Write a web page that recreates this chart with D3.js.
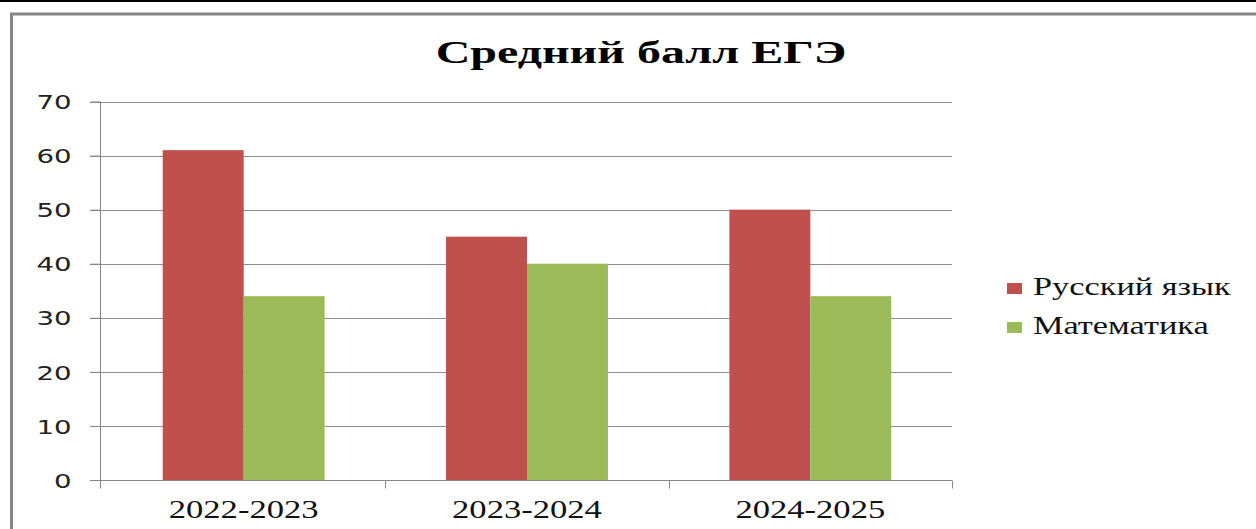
<!DOCTYPE html>
<html>
<head>
<meta charset="utf-8">
<script src="https://cdn.jsdelivr.net/npm/d3@7"></script>
<style>
  html, body { margin: 0; padding: 0; background: #fff; }
  svg { display: block; }
</style>
</head>
<body>
<div id="chart"></div>
<script>
const title = "Средний балл ЕГЭ";
const categories = ["2022-2023", "2023-2024", "2024-2025"];
const seriesNames = ["Русский язык", "Математика"];
const russian = [61, 45, 50];
const math = [34, 40, 34];
const yTicks = [0, 10, 20, 30, 40, 50, 60, 70];
const colors = ["#C0504D", "#9BBB59"];

const width = 1256, height = 529;

const svg = d3.select("#chart").append("svg")
  .attr("width", width)
  .attr("height", height);

// page edge and chart frame
svg.append("line")
  .attr("x1", 0).attr("x2", width).attr("y1", 1).attr("y2", 1)
  .attr("stroke", "#000").attr("stroke-width", 2);
svg.append("rect")
  .attr("x", 11.5).attr("y", 14)
  .attr("width", 1400).attr("height", 700)
  .attr("fill", "none").attr("stroke", "#868686").attr("stroke-width", 3);

const x = d3.scaleBand().domain(categories).range([102, 952]);
const xs = d3.scaleBand().domain(seriesNames).range([0, x.bandwidth()]).paddingOuter(0.75);
const y = d3.scaleLinear().domain([0, 70]).range([480, 101.5]);

// the source picture is stretched sideways, so text is widened too
function stretch(sx) {
  return (sel) => sel.each(function () {
    const w = this.getComputedTextLength();
    d3.select(this).attr("textLength", w * sx).attr("lengthAdjust", "spacingAndGlyphs");
  });
}

// gridlines
svg.append("g")
  .selectAll("line")
  .data(yTicks.filter((d) => d > 0))
  .join("line")
  .attr("x1", 90).attr("x2", 952)
  .attr("y1", (d) => Math.round(y(d)) + 0.5)
  .attr("y2", (d) => Math.round(y(d)) + 0.5)
  .attr("stroke", "#8c8c8c").attr("stroke-width", 1);

// bars
const data = categories.map((c, i) => ({ cat: c, vals: [russian[i], math[i]] }));
svg.append("g")
  .selectAll("g")
  .data(data)
  .join("g")
  .attr("transform", (d) => `translate(${x(d.cat)},0)`)
  .selectAll("rect")
  .data((d) => d.vals.map((v, j) => ({ name: seriesNames[j], v, j })))
  .join("rect")
  .attr("x", (d) => xs(d.name))
  .attr("width", xs.bandwidth())
  .attr("y", (d) => y(d.v))
  .attr("height", (d) => y(0) - y(d.v))
  .attr("fill", (d) => colors[d.j]);

// y axis
const yAxis = svg.append("g")
  .attr("transform", "translate(100.5,0)")
  .call(d3.axisLeft(y).tickValues(yTicks).tickSize(10).tickPadding(0).tickFormat(d3.format("d")));
yAxis.select(".domain").attr("stroke", "#868686").attr("d", `M0,${y(70)}V${y(0)}`);
yAxis.selectAll(".tick line").attr("stroke", "#868686");
yAxis.selectAll(".tick text")
  .attr("x", -29)
  .attr("dy", "0.36em")
  .attr("fill", "#222")
  .style("font-family", "'DejaVu Sans', Verdana, sans-serif")
  .style("font-size", "20px")
  .call(stretch(1.38));

// x axis
const xAxis = svg.append("g").attr("transform", `translate(0,${Math.round(y(0)) + 0.5})`);
xAxis.append("line")
  .attr("x1", 90).attr("x2", 952)
  .attr("stroke", "#868686");
xAxis.selectAll("line.tk")
  .data([100].concat(categories.slice(1).map((c) => x(c)), [x.range()[1]]))
  .join("line")
  .attr("class", "tk")
  .attr("x1", (d) => Math.round(d) + 0.5).attr("x2", (d) => Math.round(d) + 0.5)
  .attr("y1", 0).attr("y2", 8)
  .attr("stroke", "#868686");
xAxis.selectAll("text")
  .data(categories)
  .join("text")
  .attr("x", (d) => x(d) + x.bandwidth() / 2)
  .attr("y", 37)
  .attr("text-anchor", "middle")
  .attr("fill", "#111")
  .style("font-family", "'Liberation Serif', 'Times New Roman', serif")
  .style("font-size", "26px")
  .text((d) => d)
  .call(stretch(1.33));

// title
svg.append("text")
  .attr("x", 641)
  .attr("y", 63)
  .attr("text-anchor", "middle")
  .attr("fill", "#000")
  .style("font-family", "'Liberation Serif', 'Times New Roman', serif")
  .style("font-weight", "bold")
  .style("font-size", "32px")
  .text(title)
  .call(stretch(1.5));

// legend
const legend = svg.append("g").attr("transform", "translate(1007,0)");
const rows = legend.selectAll("g")
  .data(seriesNames)
  .join("g")
  .attr("transform", (d, i) => `translate(0,${295 + i * 39})`);
rows.append("rect")
  .attr("x", 0).attr("y", -12)
  .attr("width", 15).attr("height", 11)
  .attr("fill", (d, i) => colors[i]);
rows.append("text")
  .attr("x", 26)
  .attr("y", 0)
  .attr("fill", "#111")
  .style("font-family", "'Liberation Serif', 'Times New Roman', serif")
  .style("font-size", "26px")
  .text((d) => d)
  .call(stretch(1.32));
</script>
</body>
</html>
